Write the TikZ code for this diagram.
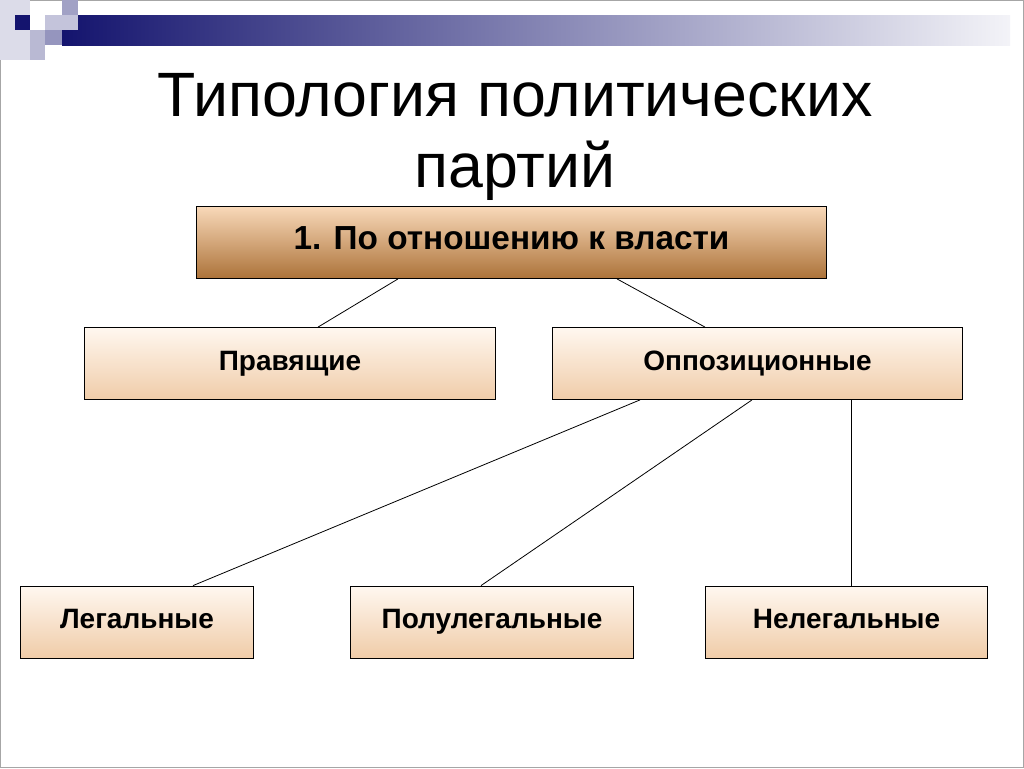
\documentclass[tikz,border=0pt]{standalone}
\usepackage{fontspec}
\setmainfont{Liberation Sans}
\begin{document}
\begin{tikzpicture}[x=0.75pt,y=-0.75pt]
\tikzset{box/.style={draw,semithick,minimum height=54pt,text height=14pt,text depth=4pt,font=\bfseries\fontsize{21}{24}\selectfont,top color=orange!6,bottom color=orange!40!brown!40,shading angle=0},
         head/.style={box,font=\bfseries\fontsize{25}{28}\selectfont,top color=brown!35!orange!30,bottom color=brown!90!black}}
\definecolor{navy}{RGB}{20,20,110}
\useasboundingbox (0,0) rectangle (1024,768);
\fill[white] (0,0) rectangle (1024,768);
\draw[gray!70] (0.5,0.5) rectangle (1023.5,767.5);
% header strip
\shade[left color=navy,right color=navy!5] (62,15) rectangle (1010,45);
\fill[navy!15] (0,0) rectangle (30,60);
\fill[navy!25] (45,15) rectangle (78,30);
\fill[navy!40] (62,0) rectangle (78,15);
\fill[navy!30] (30,30) rectangle (45,60);
\fill[navy!45] (45,30) rectangle (62,45);
\fill[navy] (15,15) rectangle (30,30);
% title
\node[font=\fontsize{47}{53}\selectfont,align=center] (title) at (515,137) {Типология политических\\партий};
\node[head,minimum width=472pt] (vlast) at (511.5,242.5) {1. По отношению к власти};
\node[box,minimum width=308pt] (prav) at (290,363.5) {Правящие};
\node[box,minimum width=308pt] (opp) at (757.5,363.5) {Оппозиционные};
\node[box,minimum width=175pt] (leg) at (137,622) {Легальные};
\node[box,minimum width=212pt] (pol) at (492,622) {Полулегальные};
\node[box,minimum width=212pt] (neleg) at (846.5,622) {Нелегальные};
\draw[semithick] (vlast.south -| 398,0) -- (prav.north -| 318,0);
\draw[semithick] (vlast.south -| 617,0) -- (opp.north -| 705,0);
\draw[semithick] (opp.south -| 640,0) -- (leg.north -| 193,0);
\draw[semithick] (opp.south -| 752,0) -- (pol.north -| 481,0);
\draw[semithick] (opp.south -| 851,0) -- (neleg.north -| 851,0);
\end{tikzpicture}
\end{document}
